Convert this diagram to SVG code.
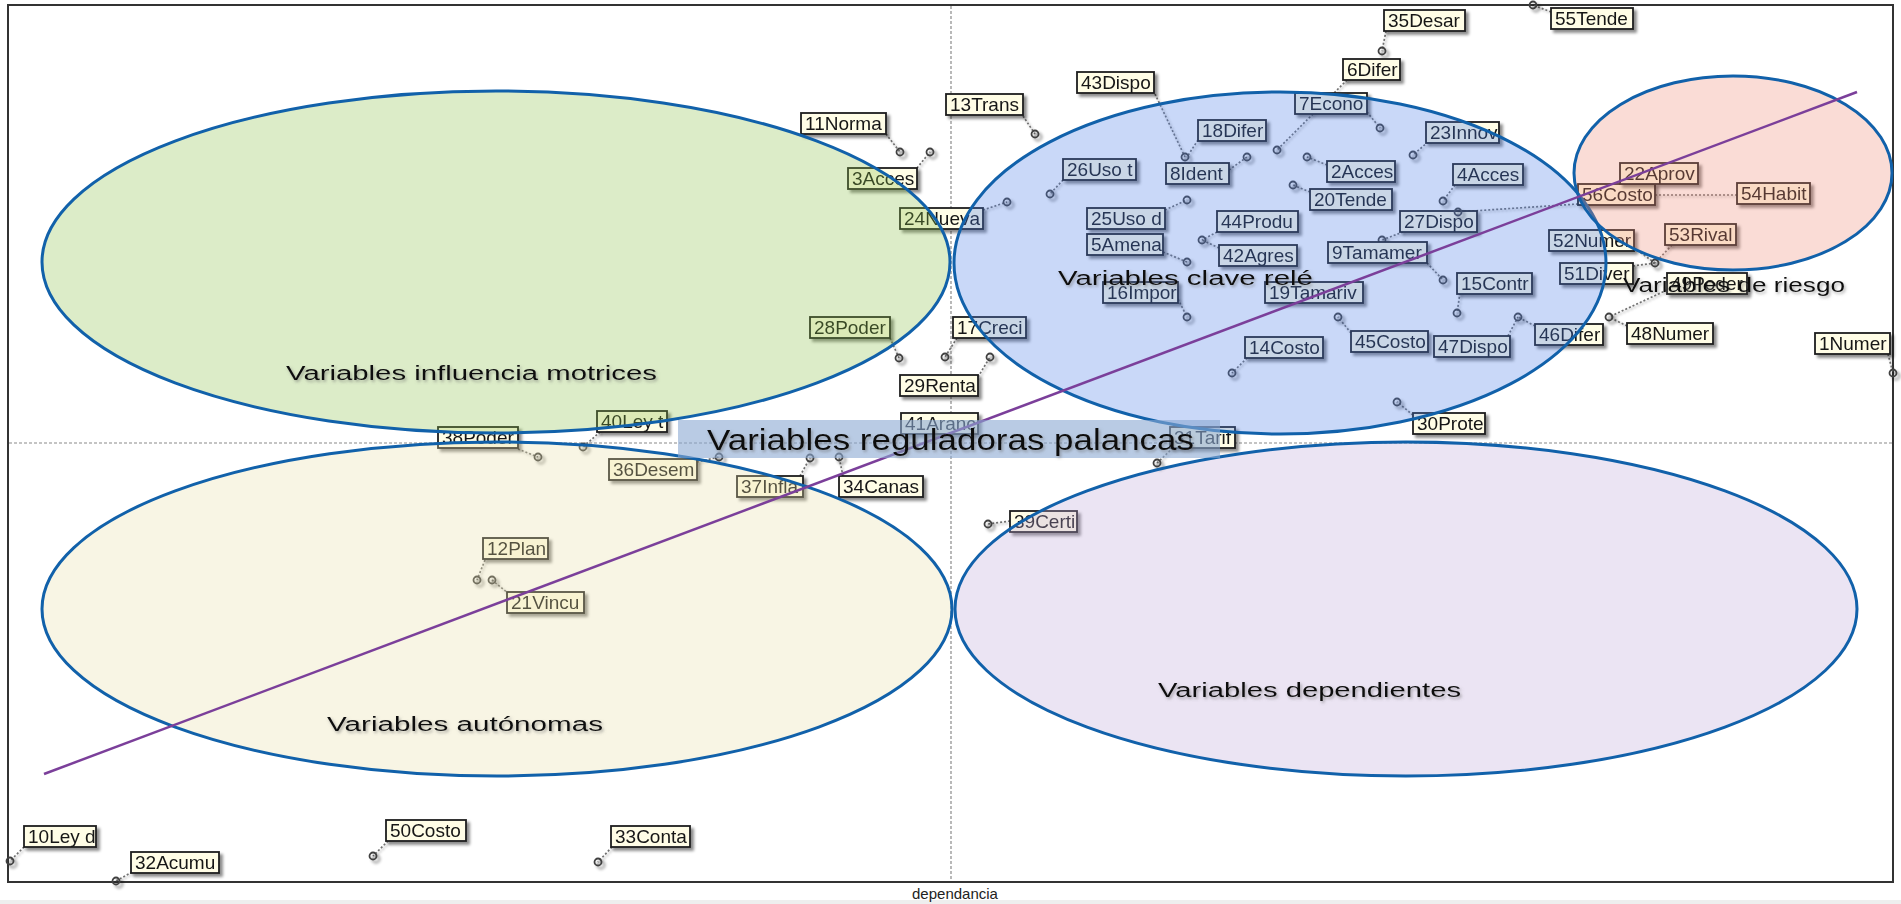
<svg xmlns="http://www.w3.org/2000/svg" width="1901" height="904" viewBox="0 0 1901 904">
  <defs>
    <filter id="sh" x="-20%" y="-40%" width="150%" height="200%">
      <feDropShadow dx="3" dy="3" stdDeviation="1.4" flood-color="#000" flood-opacity="0.45"/>
    </filter>
    <filter id="lsh" x="-20%" y="-20%" width="140%" height="140%">
      <feDropShadow dx="1.5" dy="1.5" stdDeviation="0.8" flood-color="#000" flood-opacity="0.35"/>
    </filter>
    <filter id="tsh" x="-5%" y="-30%" width="110%" height="170%">
      <feDropShadow dx="1.5" dy="2" stdDeviation="1.5" flood-color="#666" flood-opacity="0.55"/>
    </filter>
    <style>
      .node rect { fill: #fffde6; stroke: #1c1c1c; stroke-width: 1.8; }
      .node text { font-family: "Liberation Sans", Arial, sans-serif; font-size: 19px; fill: #151515; }
      .node circle { fill: none; stroke: #3f3f3f; stroke-width: 1.8; }
      .node { filter: url(#sh); }
      #connectors { filter: url(#lsh); }
      #connectors line { stroke: #6f6f6f; stroke-width: 1.7; stroke-dasharray: 2 2; }
      .axis { stroke: #8a8a8a; stroke-width: 1.2; stroke-dasharray: 3 2; fill: none; }
      .zone { stroke: #1161aa; stroke-width: 3; stroke-opacity: 1; fill-opacity: 0.3; }
      .title { font-family: "Liberation Sans", Arial, sans-serif; fill: #111; filter: url(#tsh); }
    </style>
  </defs>

  <rect width="1901" height="904" fill="#ffffff"/>
  <rect x="0" y="900" width="1901" height="4" fill="#eeeeee"/>

  <!-- plot frame and the two mid axes -->
  <rect x="8" y="5" width="1885" height="877" fill="none" stroke="#333" stroke-width="2"/>
  <line class="axis" x1="951" y1="6" x2="951" y2="881"/>
  <line class="axis" x1="9" y1="443" x2="1892" y2="443"/>
  <text x="955" y="899" text-anchor="middle" font-family="Liberation Sans, Arial, sans-serif" font-size="15" fill="#222">dependancia</text>

  <!-- dotted leader lines from each point to its label -->
  <g id="connectors">
    <line x1="886" y1="134" x2="900" y2="152"/>
    <line x1="917" y1="168" x2="930" y2="152"/>
    <line x1="1023" y1="116" x2="1035" y2="134"/>
    <line x1="1155" y1="94" x2="1185" y2="157"/>
    <line x1="1198" y1="140" x2="1187" y2="157"/>
    <line x1="1229" y1="170" x2="1247" y2="157"/>
    <line x1="1063" y1="180" x2="1050" y2="194"/>
    <line x1="983" y1="210" x2="1007" y2="202"/>
    <line x1="1165" y1="210" x2="1187" y2="200"/>
    <line x1="1347" y1="80" x2="1277" y2="150"/>
    <line x1="1386" y1="31" x2="1382" y2="51"/>
    <line x1="1551" y1="12" x2="1533" y2="5"/>
    <line x1="1367" y1="112" x2="1380" y2="128"/>
    <line x1="1327" y1="165" x2="1307" y2="157"/>
    <line x1="1310" y1="192" x2="1293" y2="185"/>
    <line x1="1428" y1="142" x2="1413" y2="155"/>
    <line x1="1455" y1="185" x2="1443" y2="201"/>
    <line x1="1578" y1="204" x2="1458" y2="212"/>
    <line x1="1655" y1="195" x2="1737" y2="195"/>
    <line x1="1403" y1="232" x2="1382" y2="240"/>
    <line x1="1217" y1="232" x2="1202" y2="240"/>
    <line x1="1219" y1="248" x2="1202" y2="240"/>
    <line x1="1163" y1="252" x2="1187" y2="262"/>
    <line x1="1178" y1="299" x2="1187" y2="317"/>
    <line x1="1427" y1="263" x2="1443" y2="280"/>
    <line x1="1460" y1="293" x2="1457" y2="313"/>
    <line x1="1351" y1="333" x2="1338" y2="317"/>
    <line x1="1247" y1="358" x2="1232" y2="373"/>
    <line x1="1535" y1="326" x2="1518" y2="317"/>
    <line x1="1508" y1="336" x2="1518" y2="317"/>
    <line x1="1672" y1="245" x2="1655" y2="263"/>
    <line x1="1633" y1="266" x2="1655" y2="263"/>
    <line x1="1634" y1="248" x2="1655" y2="263"/>
    <line x1="1667" y1="290" x2="1609" y2="317"/>
    <line x1="1627" y1="326" x2="1609" y2="317"/>
    <line x1="1888" y1="354" x2="1893" y2="373"/>
    <line x1="890" y1="338" x2="899" y2="358"/>
    <line x1="957" y1="338" x2="945" y2="357"/>
    <line x1="978" y1="377" x2="990" y2="357"/>
    <line x1="1413" y1="415" x2="1397" y2="402"/>
    <line x1="1173" y1="448" x2="1157" y2="463"/>
    <line x1="1010" y1="521" x2="988" y2="524"/>
    <line x1="843" y1="476" x2="839" y2="457"/>
    <line x1="800" y1="476" x2="810" y2="458"/>
    <line x1="697" y1="462" x2="719" y2="457"/>
    <line x1="600" y1="432" x2="583" y2="447"/>
    <line x1="518" y1="449" x2="538" y2="457"/>
    <line x1="485" y1="560" x2="477" y2="580"/>
    <line x1="509" y1="594" x2="492" y2="580"/>
    <line x1="24" y1="847" x2="10" y2="861"/>
    <line x1="132" y1="872" x2="116" y2="881"/>
    <line x1="388" y1="841" x2="373" y2="856"/>
    <line x1="612" y1="847" x2="598" y2="862"/>
  </g>

  <!-- variables: label box and plotted point -->
  <g id="n11" class="node"><circle cx="900" cy="152" r="3.5"/><rect x="801" y="113" width="85" height="21"/><text x="805" y="130">11Norma</text></g>
  <g id="n13" class="node"><circle cx="1035" cy="134" r="3.5"/><rect x="946" y="94" width="77" height="21"/><text x="950" y="111">13Trans</text></g>
  <g id="n43" class="node"><circle cx="1185" cy="157" r="3.5"/><rect x="1077" y="72" width="77" height="21"/><text x="1081" y="89">43Dispo</text></g>
  <g id="n3" class="node"><circle cx="930" cy="152" r="3.5"/><rect x="848" y="168" width="69" height="21"/><text x="852" y="185">3Acces</text></g>
  <g id="n26" class="node"><circle cx="1050" cy="194" r="3.5"/><rect x="1063" y="159" width="73" height="21"/><text x="1067" y="176">26Uso t</text></g>
  <g id="n8" class="node"><circle cx="1247" cy="157" r="3.5"/><rect x="1166" y="163" width="63" height="21"/><text x="1170" y="180">8Ident</text></g>
  <g id="n18" class="node"><rect x="1198" y="120" width="68" height="21"/><text x="1202" y="137">18Difer</text></g>
  <g id="n35" class="node"><circle cx="1382" cy="51" r="3.5"/><rect x="1384" y="10" width="81" height="21"/><text x="1388" y="27">35Desar</text></g>
  <g id="n55" class="node"><circle cx="1533" cy="5" r="3.5"/><rect x="1551" y="8" width="82" height="21"/><text x="1555" y="25">55Tende</text></g>
  <g id="n6" class="node"><circle cx="1277" cy="150" r="3.5"/><rect x="1343" y="59" width="57" height="21"/><text x="1347" y="76">6Difer</text></g>
  <g id="n7" class="node"><circle cx="1380" cy="128" r="3.5"/><rect x="1295" y="93" width="72" height="21"/><text x="1299" y="110">7Econo</text></g>
  <g id="n23" class="node"><circle cx="1413" cy="155" r="3.5"/><rect x="1426" y="122" width="73" height="21"/><text x="1430" y="139">23Innov</text></g>
  <g id="n2" class="node"><circle cx="1307" cy="157" r="3.5"/><rect x="1327" y="161" width="68" height="21"/><text x="1331" y="178">2Acces</text></g>
  <g id="n4" class="node"><circle cx="1443" cy="201" r="3.5"/><rect x="1453" y="164" width="70" height="21"/><text x="1457" y="181">4Acces</text></g>
  <g id="n20" class="node"><circle cx="1293" cy="185" r="3.5"/><rect x="1310" y="189" width="82" height="21"/><text x="1314" y="206">20Tende</text></g>
  <g id="n24" class="node"><circle cx="1007" cy="202" r="3.5"/><rect x="900" y="208" width="83" height="21"/><text x="904" y="225">24Nueva</text></g>
  <g id="n25" class="node"><circle cx="1187" cy="200" r="3.5"/><rect x="1087" y="208" width="78" height="21"/><text x="1091" y="225">25Uso d</text></g>
  <g id="n5" class="node"><circle cx="1187" cy="262" r="3.5"/><rect x="1087" y="234" width="76" height="21"/><text x="1091" y="251">5Amena</text></g>
  <g id="n44" class="node"><circle cx="1202" cy="240" r="3.5"/><rect x="1217" y="211" width="81" height="21"/><text x="1221" y="228">44Produ</text></g>
  <g id="n42" class="node"><rect x="1219" y="245" width="78" height="21"/><text x="1223" y="262">42Agres</text></g>
  <g id="n27" class="node"><circle cx="1382" cy="240" r="3.5"/><rect x="1400" y="211" width="77" height="21"/><text x="1404" y="228">27Dispo</text></g>
  <g id="n56" class="node"><circle cx="1458" cy="212" r="3.5"/><rect x="1578" y="184" width="77" height="21"/><text x="1582" y="201">56Costo</text></g>
  <g id="n22" class="node"><rect x="1620" y="163" width="78" height="21"/><text x="1624" y="180">22Aprov</text></g>
  <g id="n54" class="node"><rect x="1737" y="183" width="73" height="21"/><text x="1741" y="200">54Habit</text></g>
  <g id="n9" class="node"><circle cx="1443" cy="280" r="3.5"/><rect x="1328" y="242" width="99" height="21"/><text x="1332" y="259">9Tamamer</text></g>
  <g id="n16" class="node"><circle cx="1187" cy="317" r="3.5"/><rect x="1103" y="282" width="75" height="21"/><text x="1107" y="299">16Impor</text></g>
  <g id="n19" class="node"><rect x="1265" y="282" width="98" height="21"/><text x="1269" y="299">19Tamariv</text></g>
  <g id="n15" class="node"><circle cx="1457" cy="313" r="3.5"/><rect x="1457" y="273" width="75" height="21"/><text x="1461" y="290">15Contr</text></g>
  <g id="n52" class="node"><rect x="1549" y="230" width="85" height="21"/><text x="1553" y="247">52Numer</text></g>
  <g id="n51" class="node"><rect x="1560" y="263" width="73" height="21"/><text x="1564" y="280">51Diver</text></g>
  <g id="n53" class="node"><circle cx="1655" cy="263" r="3.5"/><rect x="1665" y="224" width="71" height="21"/><text x="1669" y="241">53Rival</text></g>
  <g id="n49" class="node"><circle cx="1609" cy="317" r="3.5"/><rect x="1667" y="273" width="80" height="21"/><text x="1671" y="290">49Poder</text></g>
  <g id="n48" class="node"><rect x="1627" y="323" width="86" height="21"/><text x="1631" y="340">48Numer</text></g>
  <g id="n46" class="node"><circle cx="1518" cy="317" r="3.5"/><rect x="1535" y="324" width="68" height="21"/><text x="1539" y="341">46Difer</text></g>
  <g id="n47" class="node"><rect x="1434" y="336" width="76" height="21"/><text x="1438" y="353">47Dispo</text></g>
  <g id="n45" class="node"><circle cx="1338" cy="317" r="3.5"/><rect x="1351" y="331" width="77" height="21"/><text x="1355" y="348">45Costo</text></g>
  <g id="n14" class="node"><circle cx="1232" cy="373" r="3.5"/><rect x="1245" y="337" width="78" height="21"/><text x="1249" y="354">14Costo</text></g>
  <g id="n1" class="node"><circle cx="1893" cy="373" r="3.5"/><rect x="1815" y="333" width="75" height="21"/><text x="1819" y="350">1Numer</text></g>
  <g id="n28" class="node"><circle cx="899" cy="358" r="3.5"/><rect x="810" y="317" width="80" height="21"/><text x="814" y="334">28Poder</text></g>
  <g id="n17" class="node"><circle cx="945" cy="357" r="3.5"/><rect x="953" y="317" width="73" height="21"/><text x="957" y="334">17Creci</text></g>
  <g id="n29" class="node"><circle cx="990" cy="357" r="3.5"/><rect x="900" y="375" width="78" height="21"/><text x="904" y="392">29Renta</text></g>
  <g id="n41" class="node"><rect x="901" y="413" width="77" height="21"/><text x="905" y="430">41Aranc</text></g>
  <g id="n30" class="node"><circle cx="1397" cy="402" r="3.5"/><rect x="1413" y="413" width="72" height="21"/><text x="1417" y="430">30Prote</text></g>
  <g id="n31" class="node"><circle cx="1157" cy="463" r="3.5"/><rect x="1170" y="427" width="65" height="21"/><text x="1174" y="444">31Tarif</text></g>
  <g id="n39" class="node"><circle cx="988" cy="524" r="3.5"/><rect x="1010" y="511" width="67" height="21"/><text x="1014" y="528">39Certi</text></g>
  <g id="n34" class="node"><circle cx="839" cy="457" r="3.5"/><rect x="839" y="476" width="84" height="21"/><text x="843" y="493">34Canas</text></g>
  <g id="n37" class="node"><circle cx="810" cy="458" r="3.5"/><rect x="737" y="476" width="66" height="21"/><text x="741" y="493">37Infla</text></g>
  <g id="n36" class="node"><circle cx="719" cy="457" r="3.5"/><rect x="609" y="459" width="88" height="21"/><text x="613" y="476">36Desem</text></g>
  <g id="n40" class="node"><circle cx="583" cy="447" r="3.5"/><rect x="597" y="411" width="70" height="21"/><text x="601" y="428">40Ley t</text></g>
  <g id="n38" class="node"><circle cx="538" cy="457" r="3.5"/><rect x="438" y="427" width="80" height="21"/><text x="442" y="444">38Poder</text></g>
  <g id="n12" class="node"><circle cx="477" cy="580" r="3.5"/><rect x="483" y="538" width="65" height="21"/><text x="487" y="555">12Plan</text></g>
  <g id="n21" class="node"><circle cx="492" cy="580" r="3.5"/><rect x="507" y="592" width="77" height="21"/><text x="511" y="609">21Vincu</text></g>
  <g id="n10" class="node"><circle cx="10" cy="861" r="3.5"/><rect x="24" y="826" width="72" height="21"/><text x="28" y="843">10Ley d</text></g>
  <g id="n32" class="node"><circle cx="116" cy="881" r="3.5"/><rect x="131" y="852" width="88" height="21"/><text x="135" y="869">32Acumu</text></g>
  <g id="n50" class="node"><circle cx="373" cy="856" r="3.5"/><rect x="386" y="820" width="80" height="21"/><text x="390" y="837">50Costo</text></g>
  <g id="n33" class="node"><circle cx="598" cy="862" r="3.5"/><rect x="611" y="826" width="79" height="21"/><text x="615" y="843">33Conta</text></g>

  <!-- translucent zones over the scatter -->
  <g id="zones">
    <ellipse id="zone-motrices" class="zone" cx="496" cy="262" rx="454" ry="171" fill="#8ac048"/>
    <ellipse id="zone-rele" class="zone" cx="1280" cy="263" rx="326" ry="171" fill="#4b7de8"/>
    <ellipse id="zone-riesgo" class="zone" cx="1733" cy="173" rx="159" ry="97" fill="#ee8a76"/>
    <ellipse id="zone-autonomas" class="zone" cx="497" cy="609" rx="455" ry="167" fill="#e8dea5"/>
    <ellipse id="zone-dependientes" class="zone" cx="1406" cy="609" rx="451" ry="167" fill="#bca5d7"/>
  </g>

  <!-- diagonal trend line -->
  <line id="diagonal" x1="44" y1="774" x2="1857" y2="92" stroke="#7b3f9a" stroke-width="2.5"/>

  <!-- lever band -->
  <rect x="678" y="420" width="542" height="38" fill="#8aa8d2" fill-opacity="0.6"/>

  <g id="zone-titles">
    <text class="title" x="286" y="380" font-size="20" textLength="371" lengthAdjust="spacingAndGlyphs">Variables influencia motrices</text>
    <text class="title" x="1058" y="285" font-size="20" textLength="255" lengthAdjust="spacingAndGlyphs">Variables clave relé</text>
    <text class="title" x="1623" y="292" font-size="20" textLength="222" lengthAdjust="spacingAndGlyphs">Variables de riesgo</text>
    <text class="title" x="707" y="450" font-size="29" textLength="487" lengthAdjust="spacingAndGlyphs">Variables reguladoras palancas</text>
    <text class="title" x="327" y="731" font-size="20" textLength="276" lengthAdjust="spacingAndGlyphs">Variables autónomas</text>
    <text class="title" x="1158" y="697" font-size="20" textLength="303" lengthAdjust="spacingAndGlyphs">Variables dependientes</text>
  </g>
</svg>
